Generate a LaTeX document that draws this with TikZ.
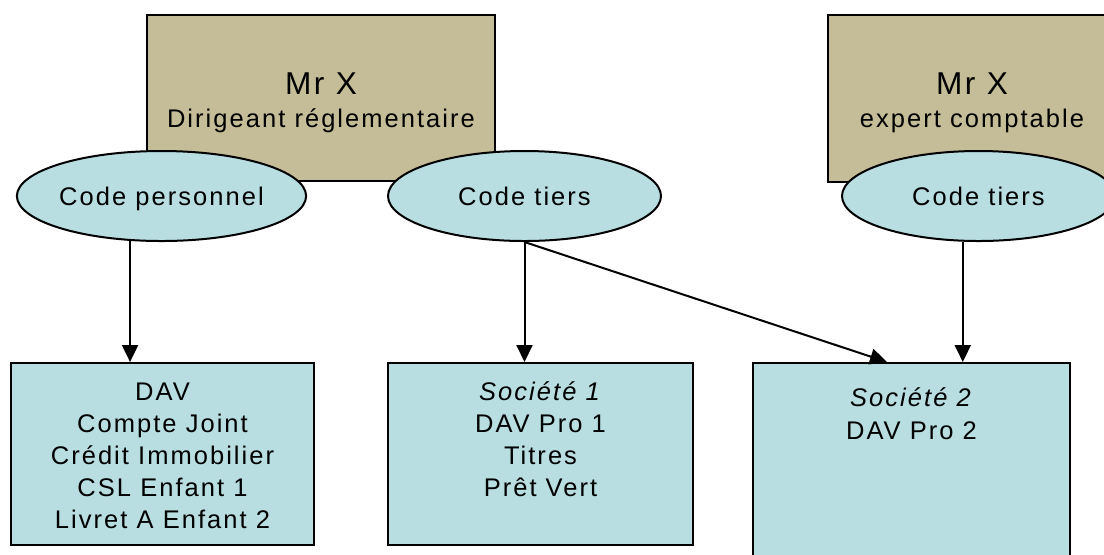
\documentclass[tikz,border=0pt]{standalone}
\usepackage{fontspec}
\setmainfont{Liberation Sans}[LetterSpace=8]
\usetikzlibrary{shapes.geometric,arrows.meta}

\definecolor{dirtan}{RGB}{196,189,151}
\definecolor{codeblue}{RGB}{184,222,226}

\tikzset{
    personbox/.style={draw=black,fill=dirtan,line width=1pt,inner sep=0pt,anchor=north west},
    codeell/.style={ellipse,draw=black,fill=codeblue,line width=1pt,inner sep=0pt,
        minimum width=136.5pt,minimum height=45pt,text depth=0pt},
    acctbox/.style={draw=black,fill=codeblue,line width=1pt,inner sep=0pt,anchor=north west},
}

\begin{document}
\begin{tikzpicture}[x=0.5pt,y=-0.5pt,font=\fontsize{12.75pt}{16pt}\selectfont,>={Triangle[length=8.5pt,width=8pt]}]

\useasboundingbox (0,0) rectangle (1104,554);

% Mr X boxes (top)
\node[personbox] (dirigeant) at (146,14) {\parbox[t][83pt][t]{174pt}{\centering\rule{0pt}{39.65pt}{\fontsize{15.8pt}{16pt}\selectfont Mr X}\\[0.7pt]Dirigeant réglementaire}};
\node[personbox] (expert) at (827,14) {\parbox[t][83.5pt][t]{144pt}{\centering\rule{0pt}{39.65pt}{\fontsize{15.8pt}{16pt}\selectfont Mr X}\\[0.7pt]expert comptable}};

% Codes
\node[codeell] (codeperso) at (161.5,196) {Code personnel};
\node[codeell] (codetiers) at (524.5,196) {Code tiers};
\node[codeell] (codetiersexp) at (978.5,196) {Code tiers};

% Accounts (bottom)
\node[acctbox] (comptesperso) at (10,362) {\parbox[t][91pt][t]{151.5pt}{\centering\rule{0pt}{18.5pt}DAV\\Compte Joint\\Crédit Immobilier\\CSL Enfant 1\\Livret A Enfant 2}};
\node[acctbox] (societeun) at (387,362) {\parbox[t][91pt][t]{152.5pt}{\centering\rule{0pt}{18.5pt}\textit{Société 1}\\DAV Pro 1\\Titres\\Prêt Vert}};
\node[acctbox] (societedeux) at (752,362) {\parbox[t][119pt][t]{158.5pt}{\centering\rule{0pt}{21.5pt}\textit{Société 2}\\[0.5pt]DAV Pro 2}};

% Links
\draw[->,line width=1pt] (codeperso.235) -- (codeperso.235 |- comptesperso.north);
\draw[->,line width=1pt] (codetiers.south) -- (codetiers.south |- societeun.north);
\draw[->,line width=1pt] (codetiers.south) -- ([xshift=-12.25pt]societedeux.north);
\draw[->,line width=1pt] (codetiersexp.251) -- (codetiersexp.251 |- societedeux.north);

\end{tikzpicture}
\end{document}
